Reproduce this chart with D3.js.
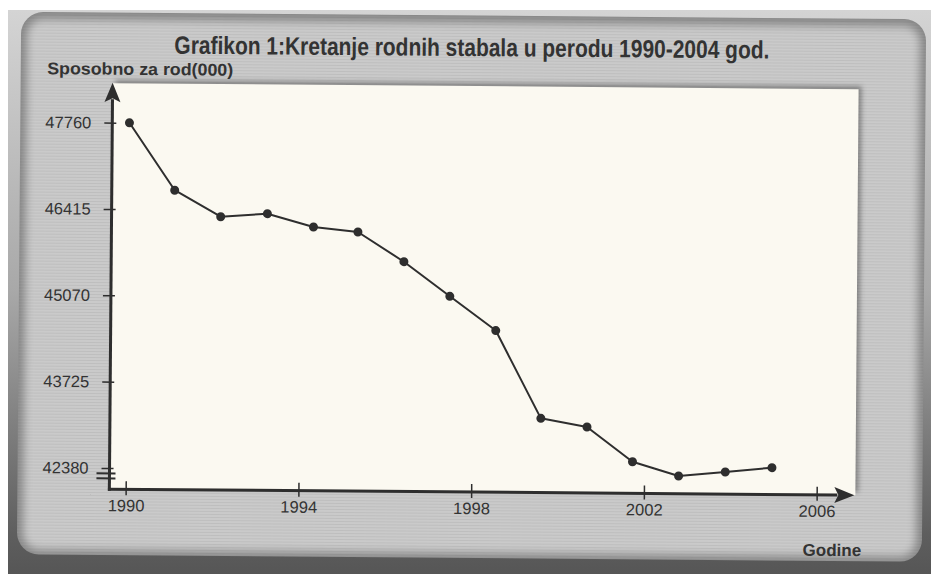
<!DOCTYPE html>
<html><head><meta charset="utf-8">
<script src="https://cdn.jsdelivr.net/npm/d3@7"></script>
<style>html,body{margin:0;padding:0;background:#fff;overflow:hidden}</style>
</head><body><svg id="c" width="931" height="574"></svg>
<script>
// ---- data ----
const years = [1990,1991,1992,1993,1994,1995,1996,1997,1998,1999,2000,2001,2002,2003,2004];
// horizontal position of each marker, in x-axis units
const xPositions = [1990.02,1991.08,1992.15,1993.23,1994.30,1995.33,1996.40,1997.47,1998.54,1999.60,2000.67,2001.73,2002.80,2003.88,2004.96];
const values = [47760,46715,46308,46361,46160,46087,45630,45097,44569,43207,43078,42542,42326,42394,42467];
const yTicks = [42380,43725,45070,46415,47760];
const xTicks = [1990,1994,1998,2002,2006];
const titleText = "Grafikon 1:Kretanje rodnih stabala u perodu 1990-2004 god.";
const yTitleText = "Sposobno za rod(000)";
const xTitleText = "Godine";

const W = 931, H = 574;
const svg = d3.select("#c");
const defs = svg.append("defs");

const bgGrad = defs.append("linearGradient").attr("id","bgGrad").attr("x1",0).attr("y1",0).attr("x2",0).attr("y2",1);
bgGrad.append("stop").attr("offset","0").attr("stop-color","#d4d4d4");
bgGrad.append("stop").attr("offset","0.5").attr("stop-color","#a8a8a8");
bgGrad.append("stop").attr("offset","0.93").attr("stop-color","#5e5e5e");
bgGrad.append("stop").attr("offset","1").attr("stop-color","#565656");

defs.append("filter").attr("id","blurPanel").attr("x","-10%").attr("y","-10%").attr("width","120%").attr("height","120%")
  .append("feGaussianBlur").attr("stdDeviation",4);
defs.append("filter").attr("id","blurShadow").attr("x","-10%").attr("y","-10%").attr("width","120%").attr("height","120%")
  .append("feGaussianBlur").attr("stdDeviation",2.5);

const pattern = defs.append("pattern").attr("id","scan").attr("patternUnits","userSpaceOnUse").attr("width",6).attr("height",3);
pattern.append("rect").attr("x",0).attr("y",0).attr("width",6).attr("height",1).attr("fill","#000").attr("opacity",0.06);

const panel = {x:19, y:15.5, w:905, h:542.5, r:22};
defs.append("clipPath").attr("id","panelClip").append("rect")
  .attr("x",panel.x).attr("y",panel.y).attr("width",panel.w).attr("height",panel.h).attr("rx",panel.r);

// outer scanned background
svg.append("rect").attr("width",W).attr("height",H).attr("fill","#fff");
svg.append("rect").attr("x",8).attr("y",10).attr("width",W-8).attr("height",H-10).attr("fill","url(#bgGrad)");

// whole chart is slightly rotated in the scan
const g = svg.append("g").attr("transform","rotate(0.46,465,287)");

g.append("rect").attr("x",panel.x).attr("y",panel.y).attr("width",panel.w).attr("height",panel.h).attr("rx",panel.r).attr("fill","#8a8a8a");
const pin = g.append("g").attr("clip-path","url(#panelClip)");
pin.append("rect").attr("x",panel.x+6).attr("y",panel.y+7).attr("width",panel.w-12).attr("height",panel.h-12).attr("rx",16)
  .attr("fill","#cacaca").attr("filter","url(#blurPanel)");
pin.append("rect").attr("x",panel.x).attr("y",panel.y).attr("width",panel.w).attr("height",panel.h).attr("fill","url(#scan)");

// plot area
const plot = {l:111, r:857, t:86, b:492};
g.append("rect").attr("x",plot.l+3).attr("y",plot.t-3).attr("width",plot.r-plot.l).attr("height",plot.b-plot.t)
  .attr("fill","#3c3c3c").attr("opacity",0.5).attr("filter","url(#blurShadow)");
g.append("rect").attr("x",plot.l).attr("y",plot.t).attr("width",plot.r-plot.l).attr("height",plot.b-plot.t).attr("fill","#fbf9f1");

// scales
const x = d3.scaleLinear().domain([1990,2006]).range([127.3,818.3]);
const y = d3.scaleLinear().domain([42380,47760]).range([470.8,125.5]);

const ink = "#2e2e2e";
const labelFont = "Liberation Sans, Arial, sans-serif";

// y axis ticks + labels
const ya = g.append("g").attr("transform",`translate(${plot.l+4},0)`)
  .call(d3.axisLeft(y).tickValues(yTicks).tickSize(12).tickPadding(13).tickFormat(d3.format("d")));
ya.select(".domain").remove();
ya.selectAll(".tick line").attr("stroke",ink).attr("stroke-width",1.5);
ya.selectAll(".tick text").attr("fill","#333").style("font-family",labelFont).style("font-size","16.5px");

// x axis ticks + labels
const xa = g.append("g").attr("transform",`translate(0,${plot.b-8})`)
  .call(d3.axisBottom(x).tickValues(xTicks).tickSize(14).tickFormat(d3.format("d")));
xa.select(".domain").remove();
xa.selectAll(".tick line").attr("stroke",ink).attr("stroke-width",1.5);
xa.selectAll(".tick text").attr("fill","#333").attr("dy",null).attr("y",30)
  .style("font-family",labelFont).style("font-size","16.5px");

// axis lines with arrows
g.append("line").attr("x1",plot.l).attr("x2",plot.l).attr("y1",plot.b+1.5).attr("y2",plot.t+16).attr("stroke",ink).attr("stroke-width",3);
g.append("line").attr("x1",plot.l-1.5).attr("x2",plot.r-18).attr("y1",plot.b).attr("y2",plot.b).attr("stroke",ink).attr("stroke-width",3);
g.append("path").attr("d",`M${plot.l},${plot.t-0.5} L${plot.l-8},${plot.t+19} L${plot.l},${plot.t+15} L${plot.l+8},${plot.t+19} Z`).attr("fill",ink);
g.append("path").attr("d",`M${plot.r-1},${plot.b} L${plot.r-21},${plot.b-8} L${plot.r-17},${plot.b} L${plot.r-21},${plot.b+8} Z`).attr("fill",ink);

// axis break marks
[5.5,10.5].forEach(dy => {
  g.append("line").attr("x1",plot.l-13).attr("x2",plot.l+6).attr("y1",y(42380)+dy).attr("y2",y(42380)+dy)
    .attr("stroke",ink).attr("stroke-width",2);
});

// series
const idx = d3.range(values.length);
const line = d3.line().x(i => x(xPositions[i])).y(i => y(values[i]));
g.append("path").datum(idx).attr("d",line).attr("fill","none").attr("stroke",ink).attr("stroke-width",2).attr("stroke-linejoin","round");
g.selectAll("circle.pt").data(idx).join("circle").attr("class","pt")
  .attr("cx",i => x(xPositions[i])).attr("cy",i => y(values[i])).attr("r",4.5).attr("fill",ink);

// texts
g.append("text").attr("x",470).attr("y",56).attr("text-anchor","middle")
  .attr("textLength",595).attr("lengthAdjust","spacingAndGlyphs")
  .style("font-family","'Liberation Sans Narrow','Arial Narrow',sans-serif").style("font-weight","bold").style("font-size","25px")
  .attr("fill","#333").text(titleText);
g.append("text").attr("x",45.5).attr("y",77.5)
  .attr("textLength",186).attr("lengthAdjust","spacingAndGlyphs")
  .style("font-family",labelFont).style("font-weight","bold").style("font-size","17px")
  .attr("fill","#333").text(yTitleText);
g.append("text").attr("x",834).attr("y",553).attr("text-anchor","middle")
  .style("font-family",labelFont).style("font-weight","bold").style("font-size","17px")
  .attr("fill","#333").text(xTitleText);
</script></body></html>
